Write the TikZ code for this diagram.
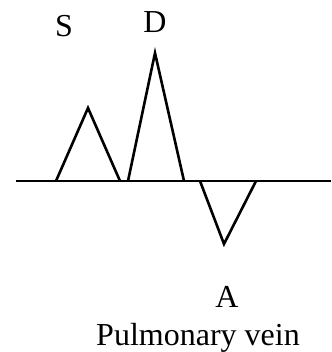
\documentclass[tikz,border=0pt]{standalone}
\usepackage{fontspec}
\setmainfont{Liberation Serif}
\begin{document}
\begin{tikzpicture}[x=1pt, y=-1pt, line width=2.6pt, line join=miter]
		\useasboundingbox (0,0) rectangle (331,352);
		\tikzset{lbl/.style={anchor=base, inner sep=0pt, font=\fontsize{32}{36}\selectfont}}
		% baseline
		\coordinate (l0) at (16,181);
		\coordinate (l1) at (331,181);
		\draw (l0) -- (l1);
		% S wave
		\draw (56,181) -- (88,108) -- (120,181);
		% D wave
		\draw (128,181) -- (155,53) -- (184,181);
		% A wave
		\draw (200,181) -- (224,244) -- (256,181);
		\node[lbl] (s) at (64,37) {S};
		\node[lbl] (d) at (155,33) {D};
		\node[lbl] (a) at (227,307) {A};
		\node[lbl] (pv) at (198,345) {Pulmonary vein};
	\end{tikzpicture}
\end{document}
